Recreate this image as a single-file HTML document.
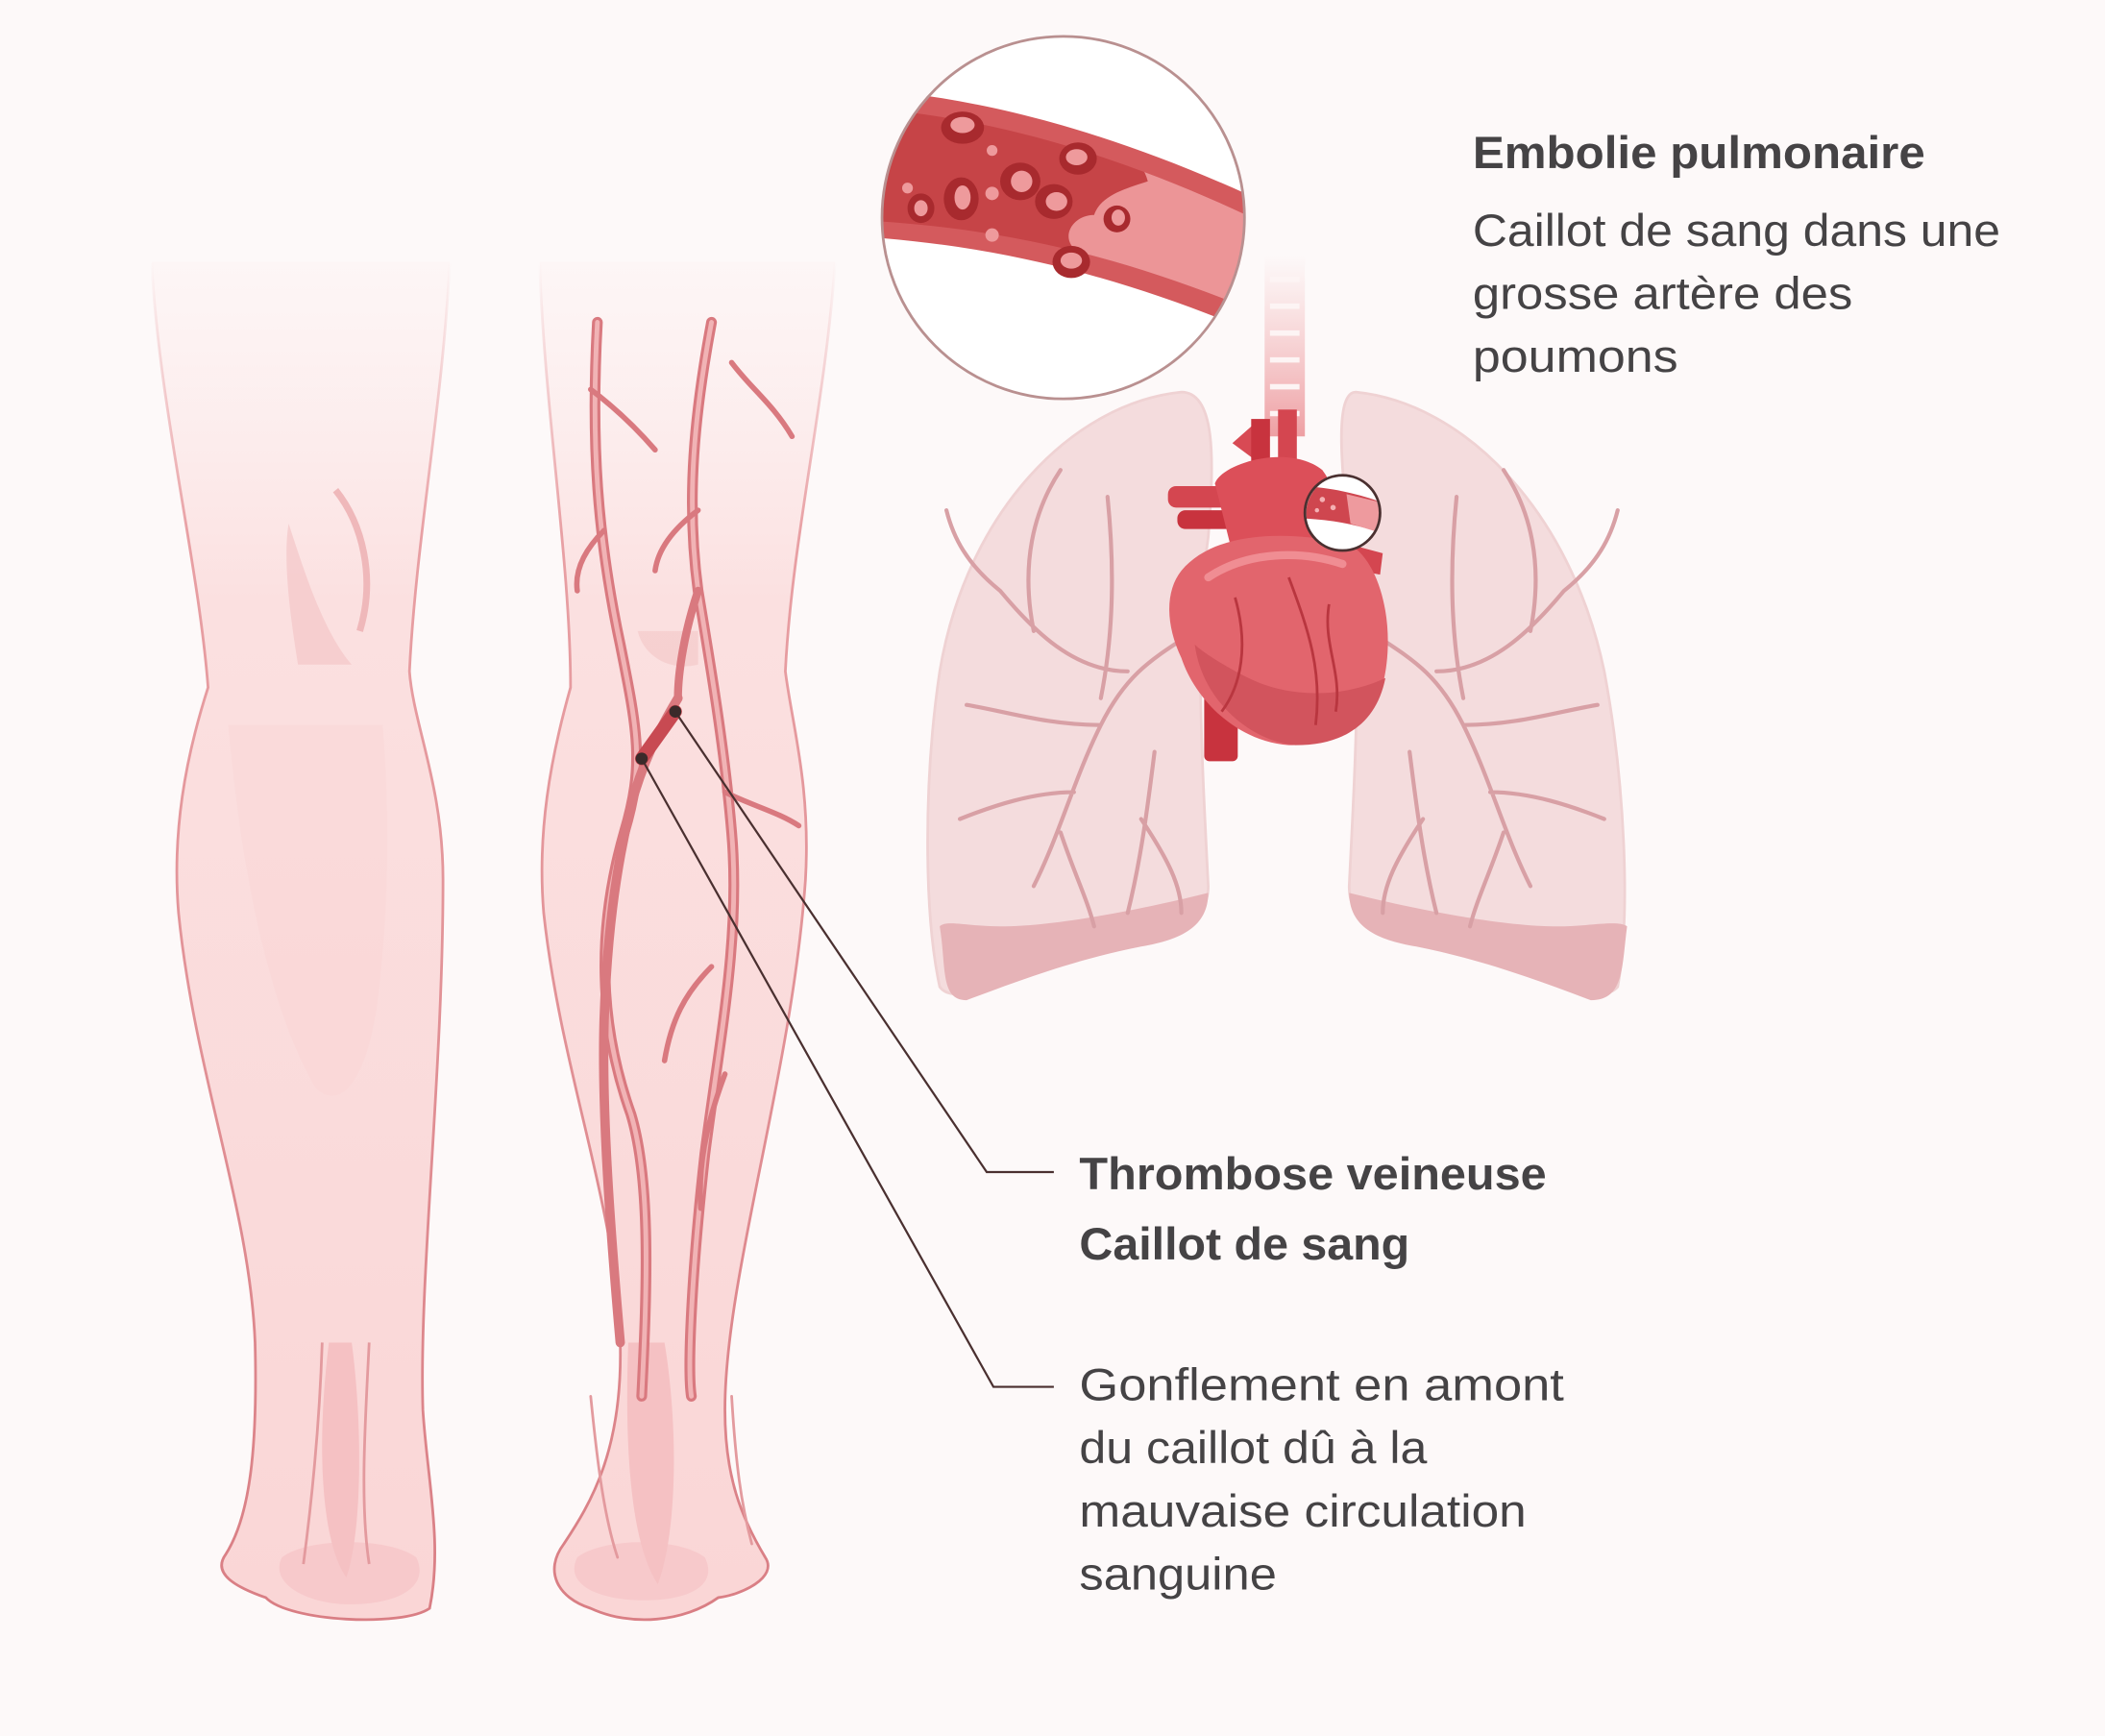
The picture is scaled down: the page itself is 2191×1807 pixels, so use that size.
<!DOCTYPE html>
<html><head><meta charset="utf-8"><style>
html,body{margin:0;padding:0;background:#fdf9f9;}
svg{display:block;}
text{font-family:"Liberation Sans",sans-serif;fill:#454345;}
</style></head><body>
<svg width="2191" height="1807" viewBox="0 0 1568 1293" xmlns="http://www.w3.org/2000/svg">
<defs>
<linearGradient id="legg" x1="0" y1="0" x2="0" y2="1">
<stop offset="0" stop-color="#fde9e9" stop-opacity="0.2"/>
<stop offset="0.25" stop-color="#fbe0e0"/>
<stop offset="1" stop-color="#fad6d6"/>
</linearGradient>
<linearGradient id="legs" x1="0" y1="0" x2="0" y2="1">
<stop offset="0" stop-color="#e8a0a4" stop-opacity="0"/>
<stop offset="0.2" stop-color="#e8a0a4"/>
<stop offset="1" stop-color="#d97e84"/>
</linearGradient>
<linearGradient id="trach" x1="0" y1="0" x2="0" y2="1">
<stop offset="0" stop-color="#f3b7b9" stop-opacity="0"/>
<stop offset="1" stop-color="#ee9fa3"/>
</linearGradient>
<clipPath id="mag"><circle cx="792" cy="162" r="135"/></clipPath>
<clipPath id="band"><path d="M640,80 C730,86 830,112 945,168 L945,236 C850,196 760,170 640,164Z"/></clipPath>
<clipPath id="smag"><circle cx="1000" cy="382" r="27"/></clipPath>
</defs>
<rect width="1568" height="1293" fill="#fdf9f9"/>

<!-- Left leg -->
<path d="M113,195 C118,300 148,420 155,512 C138,565 128,620 133,680 C145,800 186,900 190,1000 C192,1080 186,1130 168,1158 C158,1172 175,1182 198,1190 C215,1208 300,1212 320,1198 C330,1150 318,1100 315,1050 C312,950 330,800 330,655 C330,585 308,540 305,500 C310,400 330,300 335,195 Z" fill="url(#legg)" stroke="url(#legs)" stroke-width="2"/>
<path d="M170,540 C180,650 200,750 235,810 C255,830 275,800 282,740 C290,670 290,600 285,540" fill="#f7cfd0" opacity="0.3"/>
<path d="M215,390 C210,420 218,470 222,495 L262,495 C240,470 225,420 215,390Z" fill="#f3c6c7" opacity="0.7"/>
<path d="M250,365 C270,390 280,430 268,470" fill="none" stroke="#efb8ba" stroke-width="5"/>
<path d="M210,1160 C200,1180 230,1195 260,1195 C300,1195 320,1180 310,1160 C290,1145 230,1145 210,1160Z" fill="#f6c6c8" opacity="0.8"/>
<path d="M240,1000 C238,1060 232,1120 226,1165 M275,1000 C272,1060 268,1120 275,1165" stroke="#e39a9e" stroke-width="2" fill="none"/>
<path d="M245,1000 C235,1080 240,1150 258,1175 C270,1140 270,1060 262,1000Z" fill="#f5c1c3"/>

<!-- Right leg -->
<path d="M402,195 C405,300 425,420 425,512 C410,565 400,620 405,680 C418,800 460,900 462,1000 C464,1080 440,1120 420,1150 C405,1170 415,1190 440,1198 C470,1212 510,1208 535,1190 C552,1188 580,1175 570,1160 C552,1130 540,1100 540,1050 C540,950 590,800 600,655 C604,585 590,540 585,500 C590,400 615,300 622,195 Z" fill="url(#legg)" stroke="url(#legs)" stroke-width="2"/>
<path d="M475,470 C480,490 500,500 520,495 L520,470 Z" fill="#f3c6c7" opacity="0.6"/>
<path d="M430,1160 C420,1180 445,1192 480,1192 C515,1192 535,1180 525,1160 C505,1145 450,1145 430,1160Z" fill="#f6c6c8" opacity="0.8"/>
<path d="M468,1000 C465,1080 470,1150 490,1180 C505,1140 505,1060 495,1000Z" fill="#f5c1c3"/>
<!-- veins -->
<g fill="none" stroke="#d9797f" stroke-linecap="round">
<path d="M445,240 C440,330 445,400 462,480 C475,545 480,570 465,620 C445,690 445,760 470,830 C485,880 482,960 478,1040" stroke-width="8"/>
<path d="M445,240 C440,330 445,400 462,480 C475,545 480,570 465,620 C445,690 445,760 470,830 C485,880 482,960 478,1040" stroke-width="3.5" stroke="#f1b3b5"/>
<path d="M530,240 C515,320 512,380 520,440 C530,500 540,560 545,620 C552,700 535,780 525,860 C515,950 512,1020 515,1040" stroke-width="8"/>
<path d="M530,240 C515,320 512,380 520,440 C530,500 540,560 545,620 C552,700 535,780 525,860 C515,950 512,1020 515,1040" stroke-width="3.5" stroke="#f1b3b5"/>
<path d="M505,520 C490,545 478,570 470,600 C458,650 452,700 450,760 C448,830 455,920 462,1000" stroke-width="7"/>
<path d="M520,440 C510,470 505,500 505,520" stroke-width="6"/>
<g stroke-width="4">
<path d="M545,270 C560,290 575,300 590,325 M440,290 C460,305 475,320 488,335 M450,395 C435,410 428,425 430,440 M520,380 C500,395 490,410 488,425 M540,590 C560,600 580,605 595,615 M530,720 C510,740 500,760 495,790 M540,800 C525,840 520,870 522,900"/>
</g>
<path d="M440,1040 C445,1090 450,1130 460,1160 M545,1040 C548,1090 552,1120 560,1150" stroke="#e39a9e" stroke-width="2"/>
</g>
<!-- clot -->
<path d="M503,530 L478,565" stroke="#c84a52" stroke-width="10" stroke-linecap="round"/>
<!-- leader lines -->
<g stroke="#4a3030" stroke-width="1.6" fill="none">
<path d="M503,530 L735,873 L785,873"/>
<path d="M478,565 L740,1033 L785,1033"/>
</g>
<circle cx="503" cy="530" r="4.5" fill="#3a2a2a"/>
<circle cx="478" cy="565" r="4.5" fill="#3a2a2a"/>

<!-- trachea -->
<rect x="942" y="190" width="30" height="135" fill="url(#trach)"/>
<g stroke="#fdf4f4" stroke-width="4">
<line x1="946" y1="208" x2="968" y2="208"/><line x1="946" y1="228" x2="968" y2="228"/><line x1="946" y1="248" x2="968" y2="248"/><line x1="946" y1="268" x2="968" y2="268"/><line x1="946" y1="288" x2="968" y2="288"/><line x1="946" y1="308" x2="968" y2="308"/>
</g>

<!-- lungs -->
<path d="M880,292 C800,300 720,380 700,500 C688,580 688,680 700,735 C712,752 760,725 820,705 C870,695 900,690 900,660 C895,560 890,470 900,400 C905,340 905,292 880,292Z" fill="#f4dcdd" stroke="#efd2d3" stroke-width="2"/>
<path d="M700,690 C705,720 700,745 720,745 C760,730 800,715 850,705 C880,700 900,690 900,665 C860,675 790,690 745,690 C720,690 705,685 700,690Z" fill="#e6b3b7"/>
<path d="M1010,292 C1090,300 1170,380 1195,500 C1210,580 1215,680 1205,735 C1190,752 1140,725 1080,705 C1030,695 1005,690 1005,660 C1010,560 1015,470 1005,400 C998,340 995,292 1010,292Z" fill="#f4dcdd" stroke="#efd2d3" stroke-width="2"/>
<path d="M1212,690 C1208,720 1210,745 1185,745 C1145,730 1105,715 1055,705 C1025,700 1005,690 1005,665 C1045,675 1115,690 1160,690 C1185,690 1205,685 1212,690Z" fill="#e6b3b7"/>
<g fill="none" stroke="#d8a0a5" stroke-width="3" stroke-linecap="round">
<path d="M890,470 C860,490 840,500 820,540 C800,580 790,620 770,660 M840,500 C800,500 770,470 745,440 M820,540 C780,540 750,530 720,525 M800,590 C770,590 740,600 715,610 M790,620 C800,650 810,670 815,690 M860,560 C855,600 850,640 840,680 M770,470 C760,420 770,380 790,350 M745,440 C720,420 710,400 705,380 M820,520 C830,470 830,420 825,370 M850,610 C870,640 880,660 880,680"/>
<path d="M1020,470 C1050,490 1070,500 1090,540 C1110,580 1120,620 1140,660 M1070,500 C1110,500 1140,470 1165,440 M1090,540 C1130,540 1160,530 1190,525 M1110,590 C1140,590 1170,600 1195,610 M1120,620 C1110,650 1100,670 1095,690 M1050,560 C1055,600 1060,640 1070,680 M1140,470 C1150,420 1140,380 1120,350 M1165,440 C1190,420 1200,400 1205,380 M1090,520 C1080,470 1080,420 1085,370 M1060,610 C1040,640 1030,660 1030,680"/>
</g>

<!-- heart -->
<rect x="897" y="470" width="25" height="97" rx="4" fill="#c8333e"/>
<path d="M918,330 L935,315 L945,350 Z" fill="#d84a54"/>
<rect x="932" y="312" width="14" height="50" fill="#c8333e"/>
<rect x="952" y="305" width="14" height="55" fill="#d44650"/>
<rect x="870" y="362" width="60" height="16" rx="6" fill="#d44650"/>
<rect x="877" y="380" width="45" height="14" rx="6" fill="#c8333e"/>
<path d="M905,360 C910,345 960,330 985,350 C1000,370 1000,400 990,420 L920,420 Z" fill="#dc4f59"/>
<path d="M985,400 L1030,412 L1028,428 L985,420Z" fill="#d44650"/>
<path d="M880,425 C905,395 960,395 1005,405 C1030,420 1040,470 1030,510 C1020,545 990,555 960,555 C920,552 890,520 880,490 C868,465 868,440 880,425Z" fill="#e2656d"/>
<path d="M890,480 C895,520 930,552 965,555 C1000,555 1025,540 1032,505 C1000,520 960,520 930,505 C910,495 895,485 890,480Z" fill="#d2545d"/>
<path d="M900,430 C930,410 970,410 1000,420" fill="none" stroke="#f08d93" stroke-width="6" stroke-linecap="round"/>
<g fill="none" stroke="#b9363f" stroke-width="2">
<path d="M920,445 C930,480 925,510 910,530 M960,430 C975,470 985,500 980,540 M990,450 C985,480 1000,500 995,530"/>
</g>
<!-- small magnifier -->
<circle cx="1000" cy="382" r="28" fill="#fff"/>
<g clip-path="url(#smag)">
<path d="M970,362 C990,363 1010,367 1032,375 L1032,398 C1010,390 990,387 970,386Z" fill="#cf464f"/>
<path d="M1003,368 L1032,375 L1032,398 L1006,390Z" fill="#ee9a9e"/>
<circle cx="985" cy="372" r="2" fill="#f4b0b3"/><circle cx="993" cy="378" r="2" fill="#f4b0b3"/><circle cx="981" cy="380" r="1.6" fill="#f4b0b3"/>
</g>
<circle cx="1000" cy="382" r="28" fill="none" stroke="#4a3030" stroke-width="2"/>

<!-- big magnifier -->
<circle cx="792" cy="162" r="135" fill="#fff"/>
<g clip-path="url(#mag)">
<path d="M640,66 C730,72 830,98 945,152 L945,252 C850,212 760,184 640,176Z" fill="#d45a5d"/>
<path d="M640,80 C730,86 830,112 945,168 L945,236 C850,196 760,170 640,164Z" fill="#c64447"/>
<g clip-path="url(#band)">
<path d="M822,100 C830,110 850,115 855,135 C840,140 820,145 815,160 C800,160 790,175 800,185 C790,195 810,205 825,210 C840,222 860,225 880,228 C900,240 930,245 945,240 L945,100Z" fill="#ec9597"/>
<path d="M850,205 C845,215 850,225 865,222Z" fill="#c64447"/>
</g>
<g fill="#a82a2e"><ellipse cx="717" cy="95" rx="16" ry="12"/><ellipse cx="760" cy="135" rx="15" ry="14"/><ellipse cx="716" cy="148" rx="13" ry="16"/><ellipse cx="785" cy="150" rx="14" ry="13"/><ellipse cx="803" cy="118" rx="14" ry="12"/><ellipse cx="686" cy="155" rx="10" ry="11"/><ellipse cx="832" cy="163" rx="10" ry="10"/><ellipse cx="798" cy="195" rx="14" ry="12"/></g>
<g fill="#ee9a9c"><ellipse cx="717" cy="93" rx="9" ry="6"/><ellipse cx="761" cy="135" rx="8" ry="8"/><ellipse cx="717" cy="147" rx="6" ry="9"/><ellipse cx="787" cy="150" rx="8" ry="7"/><ellipse cx="802" cy="117" rx="8" ry="6"/><ellipse cx="686" cy="155" rx="5" ry="6"/><ellipse cx="833" cy="162" rx="5" ry="6"/><ellipse cx="798" cy="194" rx="8" ry="6"/><circle cx="739" cy="144" r="5"/><circle cx="739" cy="175" r="5"/><circle cx="676" cy="140" r="4"/><circle cx="739" cy="112" r="4"/></g>
</g>
<circle cx="792" cy="162" r="135" fill="none" stroke="#b99090" stroke-width="2"/>

<!-- text -->
<text x="1097" y="125" font-size="34" font-weight="bold" textLength="337" lengthAdjust="spacingAndGlyphs">Embolie pulmonaire</text>
<text x="1097" y="183" font-size="34" textLength="393" lengthAdjust="spacingAndGlyphs">Caillot de sang dans une</text>
<text x="1097" y="230" font-size="34" textLength="283" lengthAdjust="spacingAndGlyphs">grosse artère des</text>
<text x="1097" y="277" font-size="34" textLength="153" lengthAdjust="spacingAndGlyphs">poumons</text>
<text x="804" y="886" font-size="34" font-weight="bold" textLength="348" lengthAdjust="spacingAndGlyphs">Thrombose veineuse</text>
<text x="804" y="938" font-size="34" font-weight="bold" textLength="246" lengthAdjust="spacingAndGlyphs">Caillot de sang</text>
<text x="804" y="1043" font-size="34" textLength="361" lengthAdjust="spacingAndGlyphs">Gonflement en amont</text>
<text x="804" y="1090" font-size="34" textLength="259" lengthAdjust="spacingAndGlyphs">du caillot dû à la</text>
<text x="804" y="1137" font-size="34" textLength="333" lengthAdjust="spacingAndGlyphs">mauvaise circulation</text>
<text x="804" y="1184" font-size="34" textLength="147" lengthAdjust="spacingAndGlyphs">sanguine</text>
</svg>
</body></html>
